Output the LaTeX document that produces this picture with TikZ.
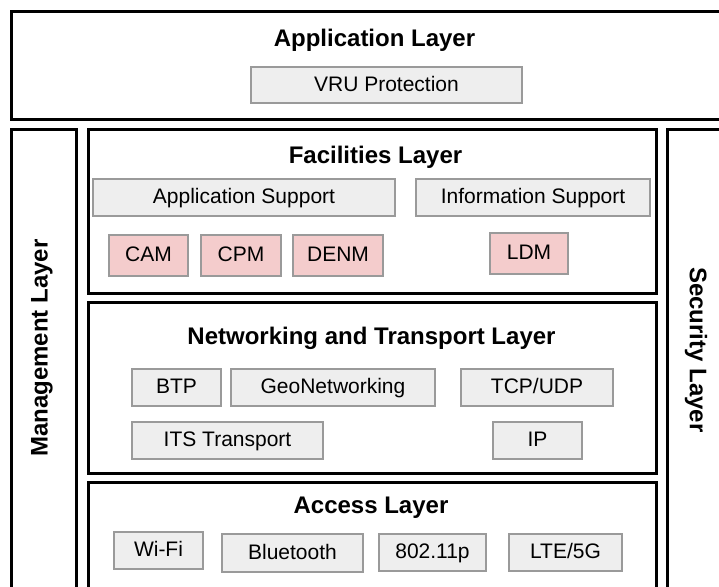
\documentclass[tikz,border=0pt]{standalone}
\usepackage{fontspec}
\setmainfont{Liberation Sans}
\usepackage{tikz}
\usetikzlibrary{positioning}

\definecolor{boxgray}{HTML}{EEEEEE}
\definecolor{edgegray}{HTML}{9A9A9A}
\definecolor{msgpink}{HTML}{F4CCCC}

\tikzset{
    layer/.style={draw=black, line width=3pt},
    layertitle/.style={font=\fontsize{24}{28}\selectfont\bfseries, anchor=base, inner sep=0pt},
    item/.style={draw=edgegray, fill=boxgray, line width=1.4pt, inner sep=0pt,
        text height=15pt, text depth=3pt, font=\fontsize{21}{25}\selectfont},
    msg/.style={item, fill=msgpink}
}

\begin{document}
\begin{tikzpicture}[x=1pt, y=-1pt]
    \clip (0, 0) rectangle (719, 586);
    \fill [white] (0, 0) rectangle (719, 586);

    % Application Layer
    \draw [layer] (11, 12) rectangle (740, 119);
    \node [layertitle] (apptitle) at (374.5, 46.5) {Application Layer};
    \node [item, minimum width=271pt, minimum height=36pt] (vru) at (386.5, 85) {VRU Protection};

    % Management Layer
    \draw [layer] (11, 129) rectangle (76, 610);
    \node [layertitle, anchor=center, rotate=90] (mgmt) at (42, 348) {Management Layer};

    % Security Layer
    \draw [layer] (667, 129) rectangle (740, 610);
    \node [layertitle, anchor=center, rotate=-90] (sec) at (696, 350) {Security Layer};

    % Facilities Layer
    \draw [layer] (88, 129) rectangle (656, 293);
    \node [layertitle] (factitle) at (375.5, 163) {Facilities Layer};
    \node [item, minimum width=302pt, minimum height=37pt] (appsup) at (244, 197.5) {Application Support};
    \node [item, minimum width=234pt, minimum height=37pt] (infsup) at (533, 197.5) {Information Support};
    \node [msg, minimum width=79pt, minimum height=41pt] (cam) at (148.5, 255.5) {CAM};
    \node [msg, minimum width=80pt, minimum height=41pt] (cpm) at (241, 255.5) {CPM};
    \node [msg, minimum width=90pt, minimum height=41pt] (denm) at (338, 255.5) {DENM};
    \node [msg, minimum width=78pt, minimum height=41pt] (ldm) at (529, 253.5) {LDM};

    % Networking and Transport Layer
    \draw [layer] (88, 302) rectangle (656, 473);
    \node [layertitle] (nettitle) at (371.5, 344) {Networking and Transport Layer};
    \node [item, minimum width=89pt, minimum height=37pt] (btp) at (176.5, 387.5) {BTP};
    \node [item, minimum width=204pt, minimum height=37pt] (geonet) at (333, 387.5) {GeoNetworking};
    \node [item, minimum width=152pt, minimum height=37pt] (tcpudp) at (537, 387.5) {TCP/UDP};
    \node [item, minimum width=191pt, minimum height=37pt] (itstp) at (227.5, 440.5) {ITS Transport};
    \node [item, minimum width=89pt, minimum height=37pt] (ip) at (537.5, 440.5) {IP};

    % Access Layer
    \draw [layer] (88, 482) rectangle (656, 610);
    \node [layertitle] (acctitle) at (371, 513) {Access Layer};
    \node [item, minimum width=89pt, minimum height=37pt] (wifi) at (158.5, 550.5) {Wi-Fi};
    \node [item, minimum width=141pt, minimum height=38pt] (bt) at (292.5, 553) {Bluetooth};
    \node [item, minimum width=107pt, minimum height=37pt] (dot11p) at (432.5, 552.5) {802.11p};
    \node [item, minimum width=113pt, minimum height=37pt] (lte) at (565.5, 552.5) {LTE/5G};
\end{tikzpicture}
\end{document}
